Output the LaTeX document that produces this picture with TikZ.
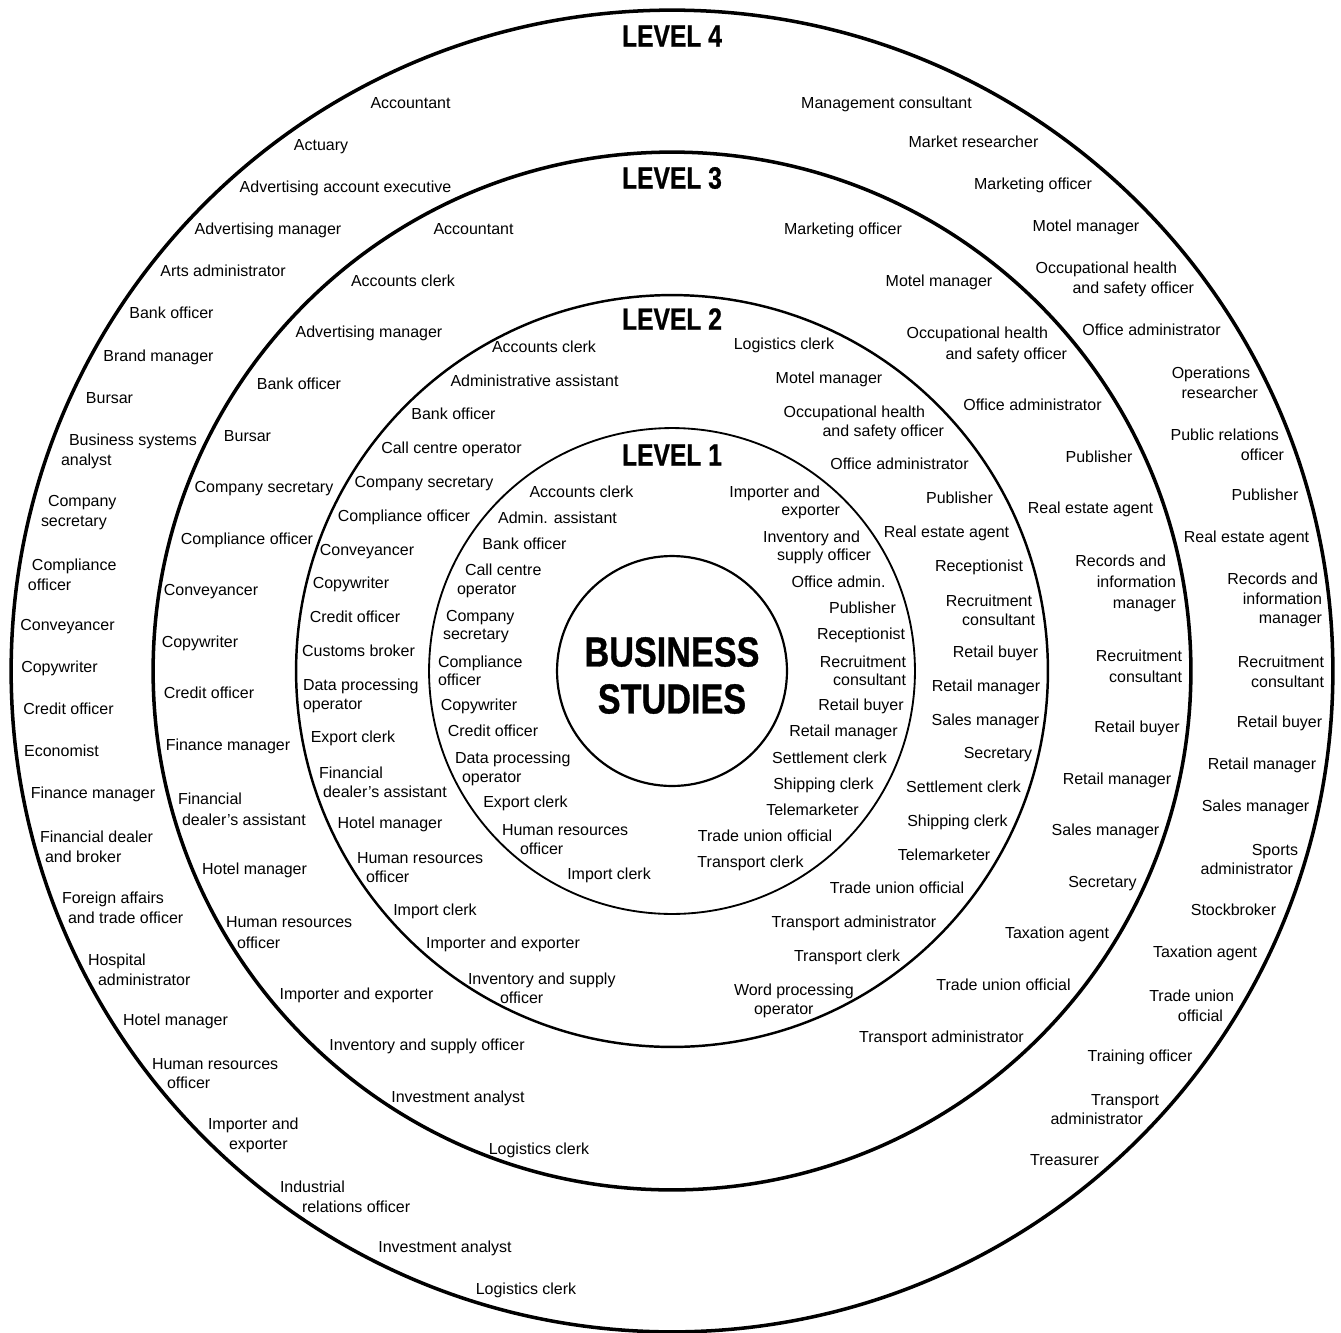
\documentclass[tikz,border=0pt]{standalone}
\usepackage{fontspec}
\setmainfont{Liberation Sans}
\newfontfamily\headfont{Liberation Sans}[BoldFeatures={FakeBold=0.9}]
\newlength\pxu \setlength\pxu{0.02cm}
\newcommand\ind[1]{\hspace*{#1\pxu}}
\begin{document}
\begin{tikzpicture}[x=0.02cm, y=-0.02cm,
  lbl/.style={font=\fontsize{9.1}{11.1}\selectfont, inner sep=0pt, outer sep=0pt},
  labS/.style={lbl, anchor=base, yshift=-0.11cm},
  labL/.style={lbl, anchor=west, align=left, yshift=-0.03cm},
  labR/.style={lbl, anchor=east, align=right, yshift=-0.03cm},
  sp4/.style={font=\fontsize{9.1}{11.3}\selectfont},
  sp3/.style={font=\fontsize{9.1}{12.0}\selectfont},
  sp2/.style={font=\fontsize{9.1}{10.8}\selectfont},
  sp1/.style={font=\fontsize{9.1}{10.5}\selectfont},
  head/.style={font=\headfont\fontsize{17.5}{20}\selectfont\bfseries, inner sep=0pt},
  big/.style={font=\headfont\fontsize{23.9}{27}\selectfont\bfseries, inner sep=0pt},
  ring/.style={draw=black}]
\useasboundingbox (0,0) rectangle (1341,1332);
\coordinate (ctr) at (672,671);
\draw[ring, line width=2pt] (ctr) circle[radius=13.22cm];
\draw[ring, line width=2pt] (ctr) circle[radius=10.38cm];
\draw[ring, line width=1.4pt] (ctr) circle[radius=7.52cm];
\draw[ring, line width=1.05pt] (ctr) circle[radius=4.86cm];
\draw[ring, line width=1.25pt] (ctr) circle[radius=2.30cm];
% headings
\node[head] (h4) at (672,36) {\scalebox{0.8}[1]{LEVEL 4}};
\node[head] (h3) at (672,178) {\scalebox{0.8}[1]{LEVEL 3}};
\node[head] (h2) at (672,319) {\scalebox{0.8}[1]{LEVEL 2}};
\node[head] (h1) at (672,455) {\scalebox{0.8}[1]{LEVEL 1}};
\node[big] (bs1) at (672,652) {\scalebox{0.815}[1]{BUSINESS}};
\node[big] (bs2) at (672,699) {\scalebox{0.815}[1]{STUDIES}};
% ---------- Level 4 left
\node[labS] (o1) at (410.5,103) {Accountant};
\node[labS] (o2) at (321,145) {Actuary};
\node[labS] (o3) at (345.5,187) {Advertising account executive};
\node[labS] (o4) at (268,229) {Advertising manager};
\node[labS] (o5) at (223,271) {Arts administrator};
\node[labS] (o6) at (171.5,313) {Bank officer};
\node[labS] (o7) at (158.5,356) {Brand manager};
\node[labS] (o8) at (109.5,398) {Bursar};
\node[labL,sp4] (o9) at (61,449.5) {\ind{8}Business systems\\analyst};
\node[labL,sp4] (o10) at (41,511) {\ind{7}Company\\secretary};
\node[labL,sp4] (o11) at (28,573) {\ind{4}Compliance\\officer};
\node[labS] (o12) at (67.5,625) {Conveyancer};
\node[labS] (o13) at (59.5,667) {Copywriter};
\node[labS] (o14) at (68.5,709) {Credit officer};
\node[labS] (o15) at (61.5,751) {Economist};
\node[labS] (o16) at (93,793) {Finance manager};
\node[labL,sp4] (o17) at (40,845) {Financial dealer\\\ind{5}and broker};
\node[labL,sp4] (o18) at (62,906.5) {Foreign affairs\\\ind{6}and trade officer};
\node[labL,sp4] (o19) at (88,968.5) {Hospital\\\ind{10}administrator};
\node[labS] (o20) at (175.5,1020) {Hotel manager};
\node[labL,sp4] (o21) at (152,1072) {Human resources\\\ind{15}officer};
\node[labL,sp4] (o22) at (208,1133.5) {Importer and\\\ind{21}exporter};
\node[labL,sp4] (o23) at (280,1195.5) {Industrial\\\ind{22}relations officer};
\node[labS] (o24) at (445,1247) {Investment analyst};
\node[labS] (o25) at (526,1289) {Logistics clerk};
% ---------- Level 4 right
\node[labS] (p1) at (886.5,103) {Management consultant};
\node[labS] (p2) at (973.5,142) {Market researcher};
\node[labS] (p3) at (1033,184) {Marketing officer};
\node[labS] (p4) at (1086,226) {Motel manager};
\node[labR,sp4] (p5) at (1194,278) {Occupational health\ind{17}\\and safety officer};
\node[labS] (p6) at (1151.5,330) {Office administrator};
\node[labR,sp4] (p7) at (1258,381.5) {Operations\ind{8}\\researcher};
\node[labR,sp4] (p8) at (1284,443) {Public relations\ind{5}\\officer};
\node[labS] (p9) at (1265,495) {Publisher};
\node[labS] (p10) at (1246.5,537) {Real estate agent};
\node[labR,sp4] (p11) at (1322,598.5) {Records and\ind{4}\\information\ind{4}\\manager};
\node[labR,sp4] (p12) at (1324,670) {Recruitment\\consultant};
\node[labS] (p13) at (1279.5,722) {Retail buyer};
\node[labS] (p14) at (1262,764) {Retail manager};
\node[labS] (p15) at (1255.5,806) {Sales manager};
\node[labR,sp4] (p16) at (1298,858) {Sports\\administrator\ind{5}};
\node[labS] (p17) at (1233.5,910) {Stockbroker};
\node[labS] (p18) at (1205,952) {Taxation agent};
\node[labR,sp4] (p19) at (1234,1004) {Trade union\\official\ind{11}};
\node[labS] (p20) at (1140,1056) {Training officer};
\node[labR,sp4] (p21) at (1159,1108) {Transport\\administrator\ind{16}};
\node[labS] (p22) at (1064.5,1160) {Treasurer};
% ---------- Level 3 left
\node[labS] (m1) at (473.5,229) {Accountant};
\node[labS] (m2) at (403,281) {Accounts clerk};
\node[labS] (m3) at (369,332) {Advertising manager};
\node[labS] (m4) at (299,384) {Bank officer};
\node[labS] (m5) at (247.5,436) {Bursar};
\node[labS] (m6) at (264,487) {Company secretary};
\node[labS] (m7) at (247,539) {Compliance officer};
\node[labS] (m8) at (211,590) {Conveyancer};
\node[labS] (m9) at (200,642) {Copywriter};
\node[labS] (m10) at (209,693) {Credit officer};
\node[labS] (m11) at (228,745) {Finance manager};
\node[labL,sp3] (m12) at (178,807.5) {Financial\\\ind{4}dealer’s assistant};
\node[labS] (m13) at (254.5,869) {Hotel manager};
\node[labL,sp3] (m14) at (226,931.5) {Human resources\\\ind{11}officer};
\node[labS] (m15) at (356.5,994) {Importer and exporter};
\node[labS] (m16) at (427,1045) {Inventory and supply officer};
\node[labS] (m17) at (458,1097) {Investment analyst};
\node[labS] (m18) at (539,1149) {Logistics clerk};
% ---------- Level 3 right
\node[labS] (n1) at (843,229) {Marketing officer};
\node[labS] (n2) at (939,281) {Motel manager};
\node[labR,sp3] (n3) at (1067,343) {Occupational health\ind{19}\\and safety officer};
\node[labS] (n4) at (1032.5,405) {Office administrator};
\node[labS] (n5) at (1099,457) {Publisher};
\node[labS] (n6) at (1090.5,508) {Real estate agent};
\node[labR,sp3] (n7) at (1176,581.5) {Records and\ind{10}\\information\ind{5}\\manager};
\node[labR,sp3] (n8) at (1182,665) {Recruitment\\consultant};
\node[labS] (n9) at (1137,727) {Retail buyer};
\node[labS] (n10) at (1117,779) {Retail manager};
\node[labS] (n11) at (1105.5,830) {Sales manager};
\node[labS] (n12) at (1102.5,882) {Secretary};
\node[labS] (n13) at (1057,933) {Taxation agent};
\node[labS] (n14) at (1003.5,985) {Trade union official};
\node[labS] (n15) at (941.5,1037) {Transport administrator};
% ---------- Level 2 left
\node[labS] (k1) at (544,347) {Accounts clerk};
\node[labS] (k2) at (534.5,381) {Administrative assistant};
\node[labS] (k3) at (453.5,414) {Bank officer};
\node[labS] (k4) at (451.5,448) {Call centre operator};
\node[labS] (k5) at (424,482) {Company secretary};
\node[labS] (k6) at (404,516) {Compliance officer};
\node[labS] (k7) at (367,550) {Conveyancer};
\node[labS] (k8) at (351,583) {Copywriter};
\node[labS] (k9) at (355,617) {Credit officer};
\node[labS] (k10) at (358.5,651) {Customs broker};
\node[labL,sp2] (k11) at (303,694) {Data processing\\operator};
\node[labS] (k12) at (353,737) {Export clerk};
\node[labL,sp2] (k13) at (319,780.5) {Financial\\\ind{4}dealer’s assistant};
\node[labS] (k14) at (390,823) {Hotel manager};
\node[labL,sp2] (k15) at (357,866.5) {Human resources\\\ind{9}officer};
\node[labS] (k16) at (435,910) {Import clerk};
\node[labS] (k17) at (503,943) {Importer and exporter};
\node[labL,sp2] (k18) at (468,986.5) {Inventory and supply\\\ind{32}officer};
% ---------- Level 2 right
\node[labS] (l1) at (784,344) {Logistics clerk};
\node[labS] (l2) at (829,378) {Motel manager};
\node[labR,sp2] (l3) at (944,421) {Occupational health\ind{19}\\and safety officer};
\node[labS] (l4) at (899.5,464) {Office administrator};
\node[labS] (l5) at (959.5,498) {Publisher};
\node[labS] (l6) at (946.5,532) {Real estate agent};
\node[labS] (l7) at (979,566) {Receptionist};
\node[labR,sp2] (l8) at (1035,608.5) {Recruitment\ind{3}\\consultant};
\node[labS] (l9) at (995.5,652) {Retail buyer};
\node[labS] (l10) at (986,686) {Retail manager};
\node[labS] (l11) at (985.5,720) {Sales manager};
\node[labS] (l12) at (998,753) {Secretary};
\node[labS] (l13) at (963.5,787) {Settlement clerk};
\node[labS] (l14) at (957.5,821) {Shipping clerk};
\node[labS] (l15) at (944,855) {Telemarketer};
\node[labS] (l16) at (897,888) {Trade union official};
\node[labS] (l17) at (854,922) {Transport administrator};
\node[labS] (l18) at (847,956) {Transport clerk};
\node[labL,sp2] (l19) at (734,999.5) {Word processing\\\ind{20}operator};
% ---------- Level 1 left
\node[labS] (i1) at (581.5,492) {Accounts clerk};
\node[labS] (i2) at (557.5,518) {Admin. assistant};
\node[labS] (i3) at (524.5,544) {Bank officer};
\node[labL,sp1] (i4) at (457,579.5) {\ind{8}Call centre\\operator};
\node[labL,sp1] (i5) at (443,625) {\ind{3}Company\\secretary};
\node[labL,sp1] (i6) at (438,669.5) {Compliance\\officer};
\node[labS] (i7) at (479,705) {Copywriter};
\node[labS] (i8) at (493,731) {Credit officer};
\node[labL,sp1] (i9) at (455,767.5) {Data processing\\\ind{7}operator};
\node[labS] (i10) at (525.5,802) {Export clerk};
\node[labL,sp1] (i11) at (502,838) {Human resources\\\ind{18}officer};
\node[labS] (i12) at (609,874) {Import clerk};
% ---------- Level 1 right
\node[labR,sp1] (j1) at (840,501) {Importer and\ind{20}\\exporter};
\node[labR,sp1] (j2) at (871,546) {Inventory and\ind{11}\\supply officer};
\node[labS] (j3) at (838.5,582) {Office admin.};
\node[labS] (j4) at (862.5,608) {Publisher};
\node[labS] (j5) at (861,634) {Receptionist};
\node[labR,sp1] (j6) at (906,669.5) {Recruitment\\consultant};
\node[labS] (j7) at (861,705) {Retail buyer};
\node[labS] (j8) at (843.5,731) {Retail manager};
\node[labS] (j9) at (829.5,758) {Settlement clerk};
\node[labS] (j10) at (823.5,784) {Shipping clerk};
\node[labS] (j11) at (812.5,810) {Telemarketer};
\node[labS] (j12) at (765,836) {Trade union official};
\node[labS] (j13) at (750.5,862) {Transport clerk};
\end{tikzpicture}
\end{document}
